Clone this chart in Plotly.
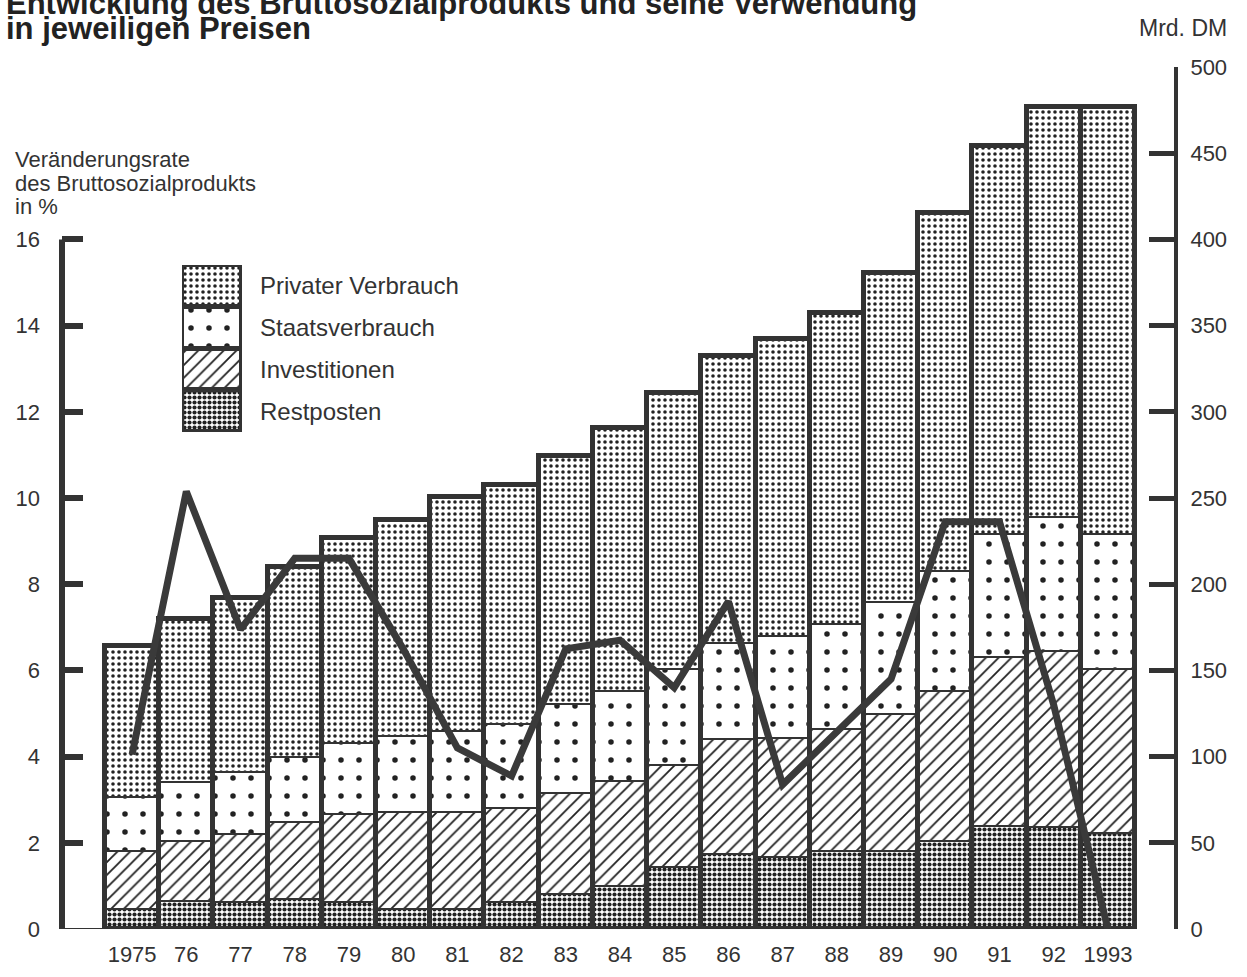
import numpy as np
import plotly.graph_objects as go

# ---------------- data ----------------
years = ["1975", "76", "77", "78", "79", "80", "81", "82", "83", "84",
         "85", "86", "87", "88", "89", "90", "91", "92", "1993"]
# Mrd. DM (right axis), stacked bottom -> top: Restposten, Investitionen, Staatsverbrauch, Privater Verbrauch
restposten = [11.6, 16.0, 15.6, 17.4, 15.6, 11.6, 11.6, 15.6, 20.3, 25.0,
              36.0, 43.5, 42.0, 45.0, 45.0, 51.0, 59.7, 59.0, 55.6]
investitionen = [33.6, 35.0, 39.4, 44.6, 51.0, 56.2, 56.2, 54.4, 58.7, 60.7,
                 59.0, 66.5, 69.0, 71.0, 79.6, 86.9, 97.9, 102.0, 95.0]
staatsverbrauch = [31.3, 34.2, 36.0, 38.0, 41.4, 44.2, 46.9, 48.8, 51.4, 52.3,
                   55.6, 56.0, 58.8, 60.7, 64.9, 69.5, 71.3, 77.7, 78.3]
privater_verbrauch = [87.5, 94.4, 100.8, 109.7, 119.0, 125.5, 135.6, 139.0, 144.2, 152.8,
                      160.4, 166.6, 172.6, 180.8, 191.1, 208.0, 225.3, 238.1, 247.9]
# Veränderungsrate des Bruttosozialprodukts in % (left axis)
rate = [4.05, 10.15, 6.95, 8.6, 8.6, 6.5, 4.2, 3.55, 6.5, 6.7,
        5.6, 7.6, 3.35, 4.6, 5.8, 9.45, 9.45, 5.2, 0.0]

left_ticks = [0, 2, 4, 6, 8, 10, 12, 14, 16]
right_ticks = [0, 50, 100, 150, 200, 250, 300, 350, 400, 450, 500]
series_names = ["Privater Verbrauch", "Staatsverbrauch", "Investitionen", "Restposten"]

# ---------------- styling ----------------
INK = "#333333"
FONT = "Liberation Sans, Arial, sans-serif"
W, H = 1247, 977
L, R, T, B = 62, 1174, 67, 929

def px(xp):
    return (xp - L) / (R - L)

def py(yp):
    return (B - yp) / (B - T)

patterns = {
    "Privater Verbrauch": dict(shape=".", size=6, solidity=0.28),
    "Staatsverbrauch": dict(shape=".", size=18, solidity=0.075),
    "Investitionen": dict(shape="/", size=9, solidity=0.2),
    "Restposten": dict(shape=".", size=5, solidity=0.55),
}

xpos = np.arange(len(years))
stack = [("Restposten", restposten), ("Investitionen", investitionen),
         ("Staatsverbrauch", staatsverbrauch), ("Privater Verbrauch", privater_verbrauch)]

fig = go.Figure()
base = np.zeros(len(years))
for name, vals in stack:
    vals = np.array(vals)
    fig.add_trace(go.Bar(
        x=xpos, y=vals, base=base, width=1.0, name=name,
        marker=dict(color="white", line=dict(color=INK, width=2),
                    pattern=dict(fgcolor="#222222", bgcolor="white", fillmode="replace",
                                 **patterns[name])),
        showlegend=False, yaxis="y", xaxis="x"))
    base = base + vals

# thick outline of each whole bar
fig.add_trace(go.Bar(
    x=xpos, y=base, base=np.zeros(len(years)), width=1.0,
    marker=dict(color="rgba(0,0,0,0)", line=dict(color=INK, width=5)),
    showlegend=False, yaxis="y", xaxis="x", hoverinfo="skip"))

# growth-rate line (left axis)
fig.add_trace(go.Scatter(
    x=xpos, y=rate, mode="lines", line=dict(color="#3a3a3a", width=7),
    showlegend=False, yaxis="y2", xaxis="x"))

# legend swatches in an inset axis
for i, name in enumerate(series_names):
    fig.add_trace(go.Bar(
        x=[1], y=[len(series_names) - 1 - i], orientation="h", width=1.0,
        marker=dict(color="white", line=dict(color=INK, width=5),
                    pattern=dict(fgcolor="#222222", bgcolor="white", fillmode="replace",
                                 **patterns[name])),
        showlegend=False, xaxis="x3", yaxis="y3", hoverinfo="skip"))

x_lo = -0.5 - (105 - L) / 54.2
x_hi = 18.5 + (R - 1135) / 54.2

fig.update_layout(
    width=W, height=H,
    margin=dict(l=L, r=W - R, t=T, b=H - B, pad=0, autoexpand=False),
    paper_bgcolor="white", plot_bgcolor="white",
    barmode="overlay", bargap=0,
    font=dict(family=FONT, color=INK, size=22),
    xaxis=dict(range=[x_lo, x_hi], tickvals=list(xpos), ticktext=years, automargin=False,
               showgrid=False, zeroline=False, showline=False, ticks="",
               tickfont=dict(size=22, color=INK), ticklabelstandoff=10),
    yaxis=dict(range=[0, 500], side="right", tickvals=right_ticks, automargin=False,
               showgrid=False, zeroline=False, showline=True, linewidth=4, linecolor=INK,
               ticks="inside", ticklen=25, tickwidth=5, tickcolor=INK,
               tickfont=dict(size=22, color=INK), ticklabelstandoff=8),
    yaxis2=dict(range=[0, 20], side="left", overlaying="y", tickvals=left_ticks, automargin=False,
                showgrid=False, zeroline=False, showline=False,
                ticks="inside", ticklen=21, tickwidth=6, tickcolor=INK,
                tickfont=dict(size=22, color=INK), ticklabelstandoff=21),
    xaxis3=dict(domain=[px(182), px(242)], range=[0, 1], visible=False, anchor="y3"),
    yaxis3=dict(domain=[py(432), py(265)], range=[-0.5, len(series_names) - 0.5],
                visible=False, anchor="x3"),
)

shapes = [
    # left axis line (0..16 %)
    dict(type="line", xref="paper", yref="y2", x0=0, x1=0, y0=0, y1=left_ticks[-1],
         line=dict(color=INK, width=6)),
    # thin base line from left axis to first bar
    dict(type="line", xref="paper", yref="y", x0=0, x1=px(105), y0=0, y1=0,
         line=dict(color=INK, width=2)),
]
fig.update_layout(shapes=shapes)

ann = []
ann.append(dict(text="<b>Entwicklung des Bruttosozialprodukts und seine Verwendung</b>",
                x=px(4), y=py(3), xref="paper", yref="paper", xanchor="left", yanchor="middle",
                showarrow=False, font=dict(size=31, color="#222222")))
ann.append(dict(text="<b>in jeweiligen Preisen</b>",
                x=px(4), y=py(29), xref="paper", yref="paper", xanchor="left", yanchor="middle",
                showarrow=False, font=dict(size=31, color="#222222")))
ann.append(dict(text="Mrd. DM", x=px(1229), y=py(28), xref="paper", yref="paper",
                xanchor="right", yanchor="middle", showarrow=False, font=dict(size=23)))
for txt, yy in [("Veränderungsrate", 160), ("des Bruttosozialprodukts", 183), ("in %", 206)]:
    ann.append(dict(text=txt, x=px(13), y=py(yy), xref="paper", yref="paper",
                    xanchor="left", yanchor="middle", showarrow=False, font=dict(size=22)))
for i, name in enumerate(series_names):
    ann.append(dict(text=name, x=px(258), y=len(series_names) - 1 - i, xref="paper", yref="y3",
                    xanchor="left", yanchor="middle", showarrow=False, font=dict(size=24)))
fig.update_layout(annotations=ann)

fig.write_html("out.html", config={"displayModeBar": False},
               post_script="document.body.style.margin='0px';document.body.style.overflow='hidden';")
